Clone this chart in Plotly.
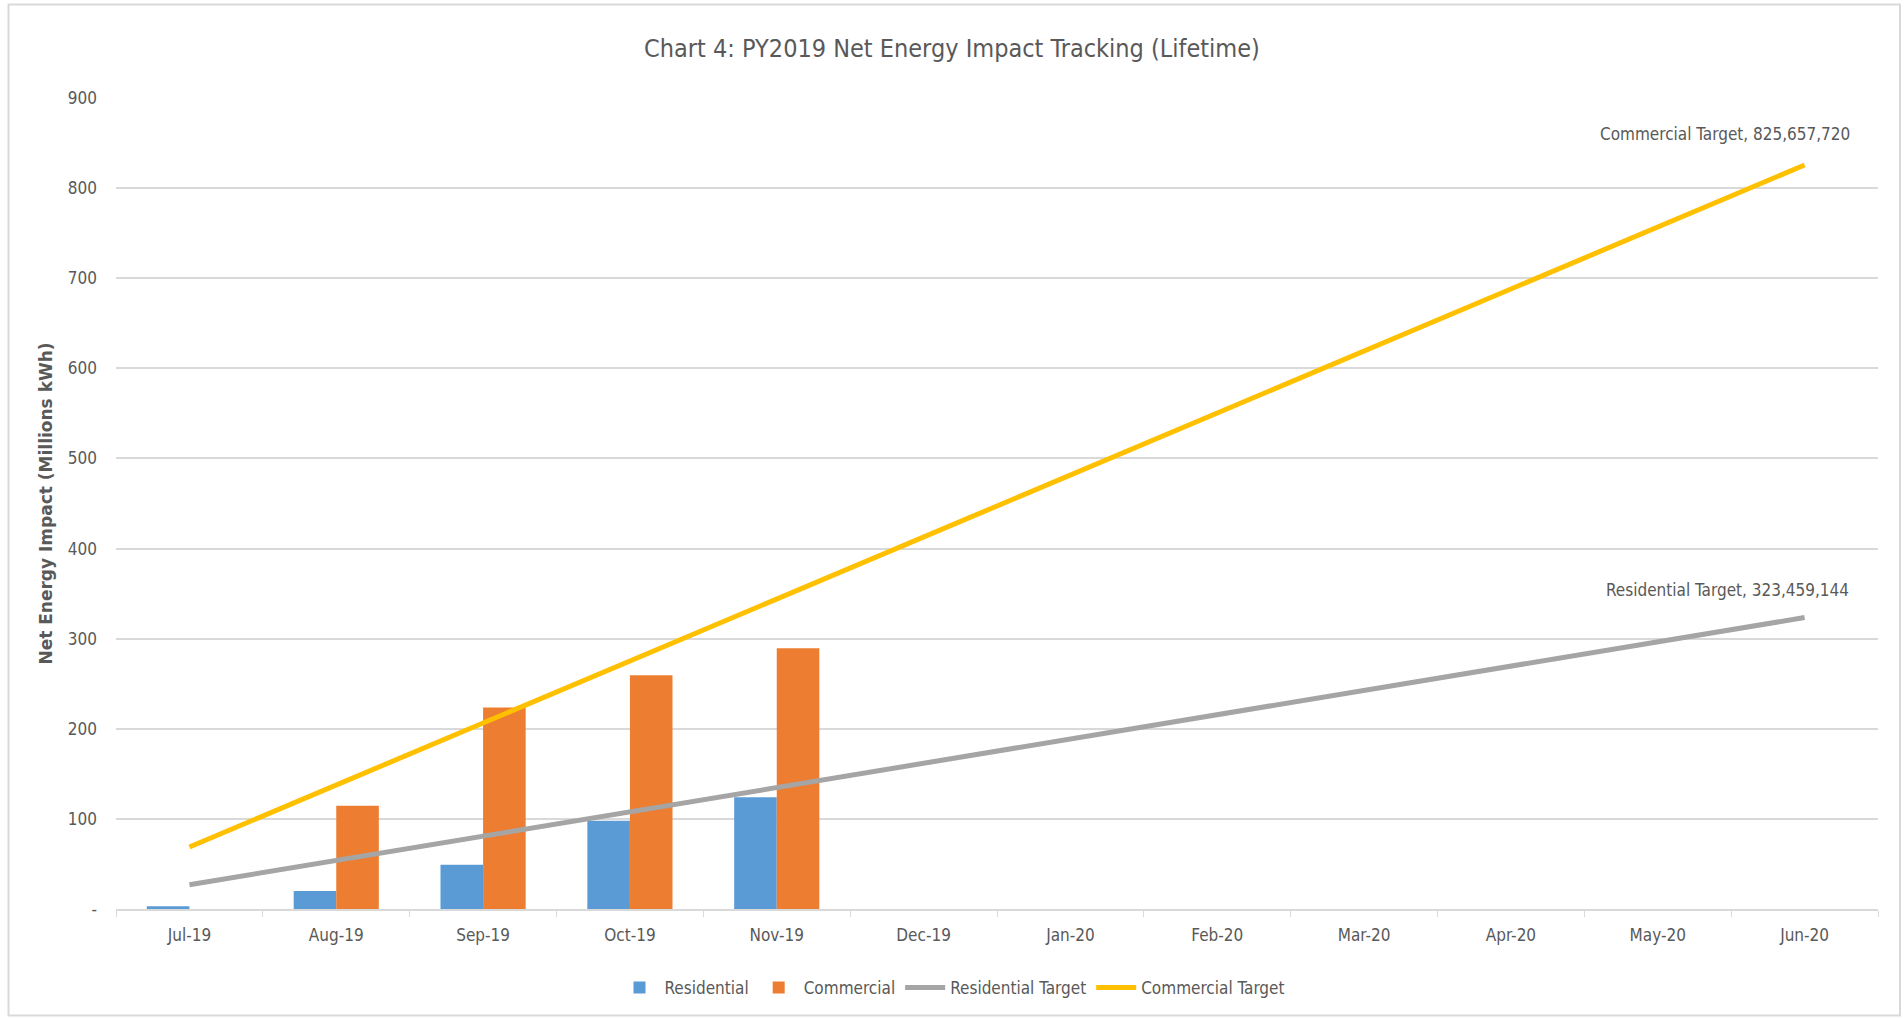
import plotly.graph_objects as go

months = ["Jul-19", "Aug-19", "Sep-19", "Oct-19", "Nov-19", "Dec-19",
          "Jan-20", "Feb-20", "Mar-20", "Apr-20", "May-20", "Jun-20"]
residential = [3, 20, 49, 98, 124, None, None, None, None, None, None, None]
commercial = [0, 114.5, 223.5, 259.5, 289.5, None, None, None, None, None, None, None]
residential_target = [26.95, 53.91, 80.86, 107.82, 134.77, 161.73,
                      188.68, 215.64, 242.59, 269.55, 296.50, 323.46]
commercial_target = [68.80, 137.61, 206.41, 275.22, 344.02, 412.83,
                     481.63, 550.44, 619.24, 688.05, 756.85, 825.66]
y_ticks = [0, 100, 200, 300, 400, 500, 600, 700, 800, 900]
y_ticktext = ["-", "100", "200", "300", "400", "500", "600", "700", "800", "900"]

FONT = "Liberation Sans Narrow, DejaVu Sans Condensed, Arial Narrow, sans-serif"
GREY = "#595959"

fig = go.Figure()
fig.add_trace(go.Bar(x=months, y=residential, name="Residential",
                     marker=dict(color="#5B9BD5", line=dict(width=0))))
fig.add_trace(go.Bar(x=months, y=commercial, name="Commercial",
                     marker=dict(color="#ED7D31", line=dict(width=0))))
fig.add_trace(go.Scatter(x=months, y=residential_target, name="Residential Target",
                         mode="lines", line=dict(color="#A5A5A5", width=5)))
fig.add_trace(go.Scatter(x=months, y=commercial_target, name="Commercial Target",
                         mode="lines", line=dict(color="#FFC000", width=5)))

fig.add_annotation(x=months[-1], y=commercial_target[-1],
                   text="Commercial Target, 825,657,720", showarrow=False,
                   xshift=-80, yshift=31, font=dict(family=FONT, size=17, color=GREY))
fig.add_annotation(x=months[-1], y=residential_target[-1],
                   text="Residential Target, 323,459,144", showarrow=False,
                   xshift=-77, yshift=28, font=dict(family=FONT, size=17, color=GREY))

fig.add_shape(type="rect", xref="paper", yref="paper",
              x0=-0.0610, x1=1.0125, y0=-0.1313, y1=1.1153,
              line=dict(color="#D9D9D9", width=2), layer="below")

fig.update_layout(
    width=1904, height=1019,
    margin=dict(l=116, r=26, t=98, b=110, autoexpand=False),
    paper_bgcolor="white", plot_bgcolor="white",
    font=dict(family=FONT, size=16, color=GREY),
    title=dict(text="Chart 4: PY2019 Net Energy Impact Tracking (Lifetime)",
               x=0.5, xanchor="center", y=1 - 48.6 / 1019, yanchor="middle",
               font=dict(family=FONT, size=25, color=GREY)),
    barmode="group", bargap=0.42, bargroupgap=0,
    showlegend=True,
    legend=dict(orientation="h", xref="container", yref="container",
                x=0.5, xanchor="center", y=1 - 988 / 1019, yanchor="middle",
                font=dict(family=FONT, size=17, color=GREY),
                itemwidth=40, traceorder="normal"),
    xaxis=dict(type="category", showgrid=False, showline=True, linecolor="#D9D9D9",
               linewidth=1.5, ticks="outside", tickson="boundaries", ticklen=6,
               tickcolor="#D9D9D9", tickfont=dict(family=FONT, size=17, color=GREY),
               ticklabelstandoff=10),
    yaxis=dict(range=[0, 900], tickvals=y_ticks, ticktext=y_ticktext,
               showgrid=True, gridcolor="#D9D9D9", gridwidth=1.5, zeroline=False,
               showline=False, ticks="", tickfont=dict(family=FONT, size=17, color=GREY),
               ticklabelstandoff=18,
               title=dict(text="<b>Net Energy Impact (Millions kWh)</b>", standoff=10,
                          font=dict(family="DejaVu Sans, sans-serif", size=17, color=GREY))),
)

fig.write_html("out.html", config={"displayModeBar": False},
               post_script="document.body.style.margin='0';document.body.style.overflow='hidden';")
